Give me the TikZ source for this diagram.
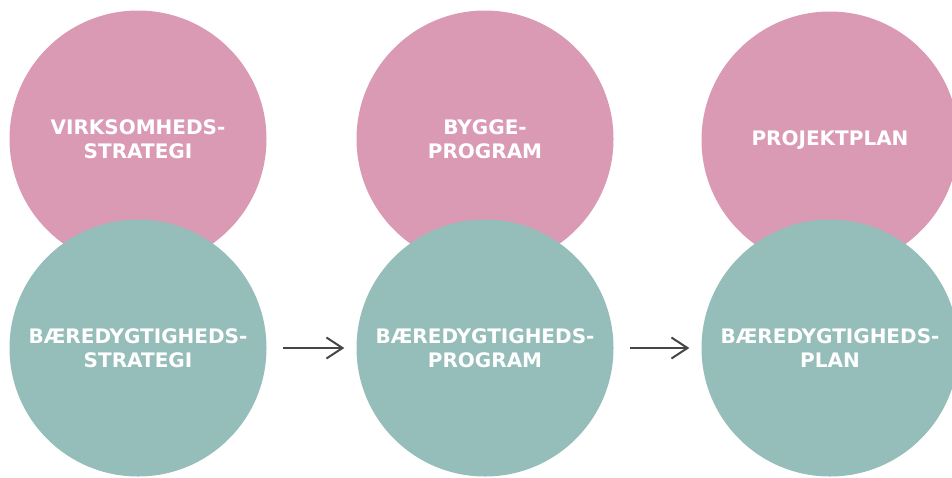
\documentclass[tikz,border=0pt]{standalone}
\usepackage{fontspec}
\newfontfamily\lblfont{DejaVu Sans}
\usetikzlibrary{arrows.meta}
\definecolor{rosa}{RGB}{219,154,180}
\definecolor{groen}{RGB}{149,189,185}
\definecolor{pilfarve}{RGB}{70,70,70}

\begin{document}
\begin{tikzpicture}[x=1pt,y=-1pt,
	cirkel/.style={circle, minimum size=257pt, inner sep=0pt, text=white, align=center,
		font=\lblfont\bfseries\fontsize{20}{24}\selectfont},
	krav/.style={cirkel, fill=rosa},
	baere/.style={cirkel, fill=groen},
	pil/.style={-{Straight Barb[length=16pt,width=21pt]}, line width=2pt, draw=pilfarve,
		shorten <=16pt, shorten >=12pt}]
	\useasboundingbox (0,0) rectangle (952,477);
	\clip (0,0) rectangle (952,477);
	\node[krav] (virk) at (138,139) {VIRKSOMHEDS-\\STRATEGI};
	\node[krav] (bygge) at (485,139) {BYGGE-\\PROGRAM};
	\node[krav] (projekt) at (830,140) {PROJEKTPLAN};
	\node[baere] (bstrat) at (138,348) {BÆREDYGTIGHEDS-\\STRATEGI};
	\node[baere] (bprog) at (485,348) {BÆREDYGTIGHEDS-\\PROGRAM};
	\node[baere] (bplan) at (830,348) {BÆREDYGTIGHEDS-\\PLAN};
	\draw[pil] (bstrat) -- (bprog);
	\draw[pil] (bprog) -- (bplan);
\end{tikzpicture}
\end{document}
